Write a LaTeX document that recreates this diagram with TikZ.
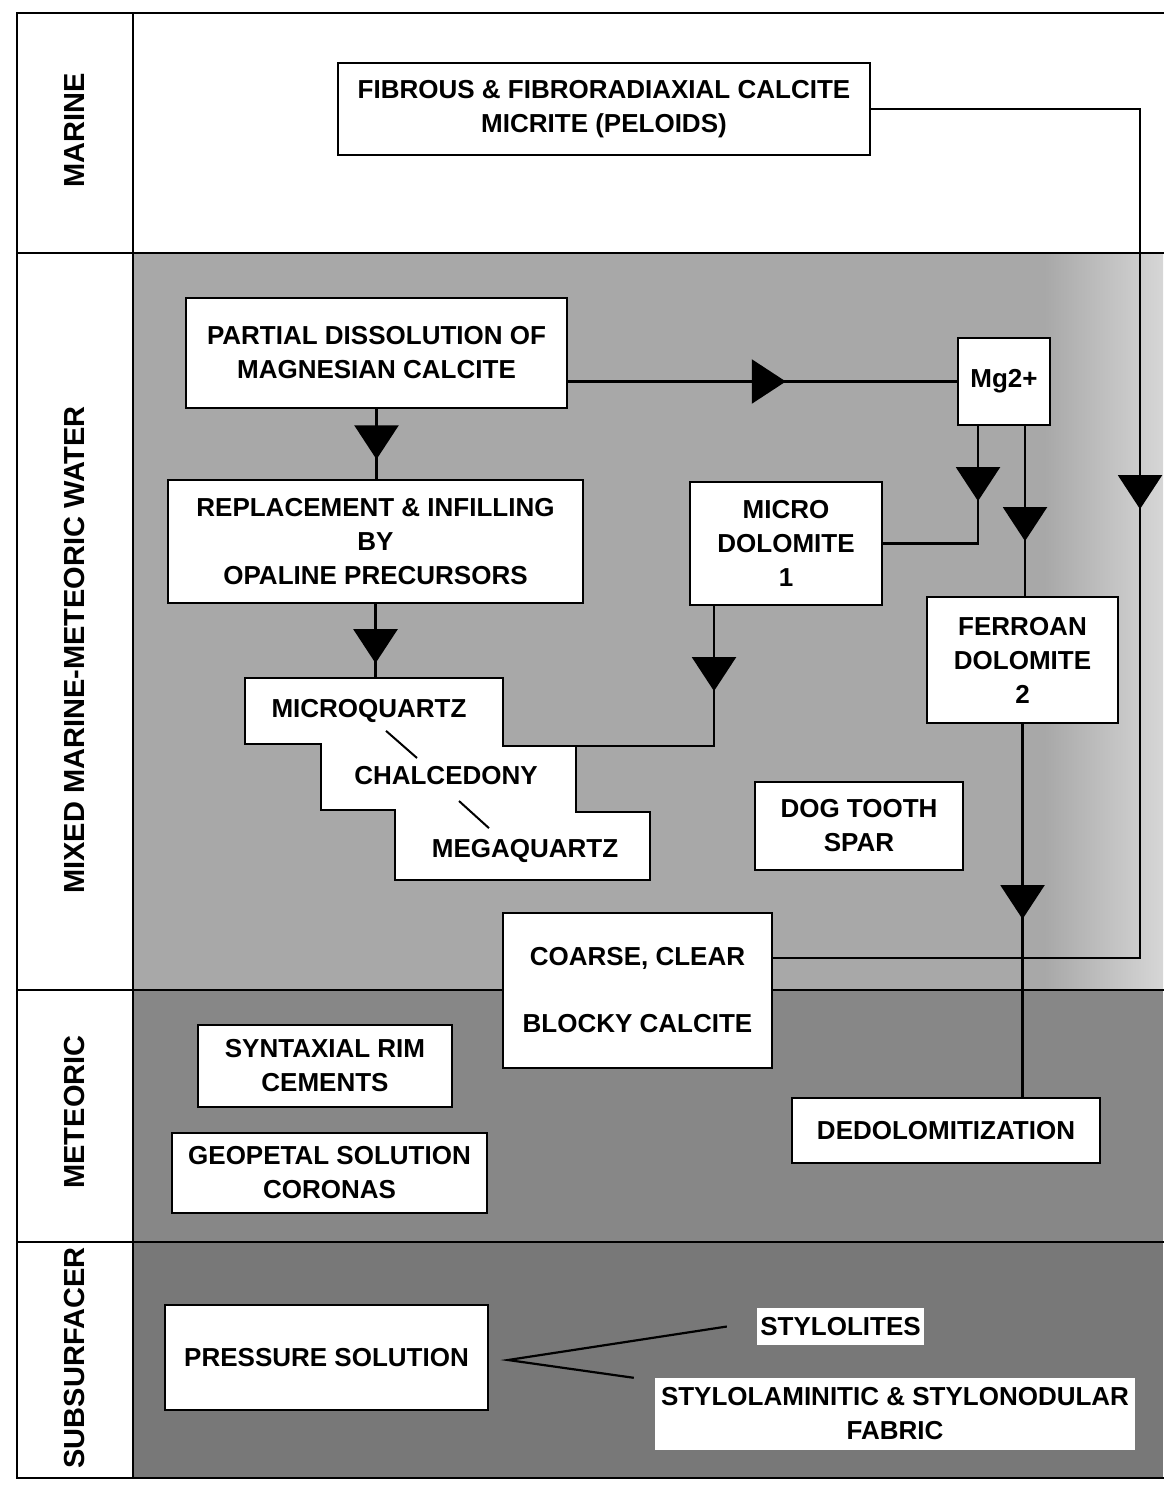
\documentclass[tikz,border=0pt]{standalone}
\usepackage{fontspec}
\setmainfont{Liberation Sans}
\usetikzlibrary{arrows.meta,decorations.markings,calc}
\definecolor{mixgray}{gray}{0.66}
\definecolor{mixlight}{gray}{0.84}
\definecolor{metgray}{gray}{0.53}
\definecolor{subgray}{gray}{0.47}
\begin{document}
\begin{tikzpicture}[x=1pt,y=-1pt,
  every node/.style={font=\bfseries\fontsize{26}{34}\selectfont},
  box/.style={draw, line width=2.2pt, fill=white, align=center, inner sep=0pt},
  plainlbl/.style={inner sep=0pt, align=center},
  whitelbl/.style={fill=white, inner sep=0pt, align=center},
  zonelabel/.style={rotate=90, inner sep=0pt, font=\bfseries\fontsize{29}{34}\selectfont},
  conn/.style={line width=2.2pt},
  tie/.style={line width=2pt},
  framel/.style={line width=2.8pt, line cap=rect},
  arrowat/.style={postaction={decorate}, decoration={markings, mark=at position #1 with {\arrow{Triangle[length=34pt,width=44pt]}}}}
]
\useasboundingbox (0,0) rectangle (1163,1494);
\fill[white] (0,0) rectangle (1163,1494);
% zone backgrounds
\fill[mixgray] (133,253) rectangle (1163,990);
\shade[left color=mixgray, right color=mixlight] (1045,253) rectangle (1163,990);
\fill[metgray] (133,990) rectangle (1163,1242);
\fill[subgray] (133,1242) rectangle (1163,1478);
% frame
\draw[framel] (17,13) -- (1163,13);
\draw[framel] (17,253) -- (1163,253);
\draw[framel] (17,990) -- (1163,990);
\draw[framel] (17,1242) -- (1163,1242);
\draw[framel] (17,1478) -- (1163,1478);
\draw[framel] (17,13) -- (17,1478);
\draw[framel] (133,13) -- (133,1478);
% zone labels
\node[zonelabel] (lmar) at (75,130) {MARINE};
\node[zonelabel] (lmix) at (75,650) {MIXED MARINE-METEORIC WATER};
\node[zonelabel] (lmet) at (75,1112) {METEORIC};
\node[zonelabel] (lsub) at (75,1358) {SUBSURFACER};
% stepped quartz box
\draw[line width=2.2pt, fill=white] (245,678) -- (503,678) -- (503,746) -- (576,746) -- (576,812) -- (650,812) -- (650,880) -- (395,880) -- (395,810) -- (321,810) -- (321,744) -- (245,744) -- cycle;
\coordinate (stepTop) at (375.5,678);
\coordinate (stepStep) at (576,746);
\node[plainlbl] (mq) at (369,711) {MICROQUARTZ};
\node[plainlbl] (ch) at (446,776) {CHALCEDONY};
\node[plainlbl] (meg) at (525,851) {MEGAQUARTZ};
\draw[tie] ([xshift=17pt,yshift=-8pt]mq.south) -- ([xshift=-29pt,yshift=8.6pt]ch.north);
\draw[tie] ([xshift=13pt,yshift=-15.6pt]ch.south) -- ([xshift=-36pt,yshift=11pt]meg.north);
% boxes
\node[box, minimum width=532pt, minimum height=92pt] (fib) at (604,109) {FIBROUS \& FIBRORADIAXIAL CALCITE\\MICRITE (PELOIDS)};
\node[box, minimum width=381pt, minimum height=110pt] (partial) at (376.5,353) {PARTIAL DISSOLUTION OF\\MAGNESIAN CALCITE};
\node[box, minimum width=92pt, minimum height=87pt] (mg) at (1004,381.5) {Mg2+};
\node[box, minimum width=415pt, minimum height=123pt] (repl) at (375.5,541.5) {REPLACEMENT \& INFILLING\\BY\\OPALINE PRECURSORS};
\node[box, minimum width=192pt, minimum height=123pt] (mdol) at (786,543.5) {MICRO\\DOLOMITE\\1};
\node[box, minimum width=191pt, minimum height=126pt] (ferro) at (1022.5,660) {FERROAN\\DOLOMITE\\2};
\node[box, minimum width=208pt, minimum height=88pt] (dog) at (859,826) {DOG TOOTH\\SPAR};
\node[box, minimum width=269pt, minimum height=155pt] (coarse) at (637.5,990.5) {COARSE, CLEAR\\[33pt]BLOCKY CALCITE};
\node[box, minimum width=254pt, minimum height=82pt] (synt) at (325,1066) {SYNTAXIAL RIM\\CEMENTS};
\node[box, minimum width=315pt, minimum height=80pt] (geo) at (329.5,1173) {GEOPETAL SOLUTION\\CORONAS};
\node[box, minimum width=308pt, minimum height=65pt] (dedol) at (946,1130.5) {DEDOLOMITIZATION};
\node[box, minimum width=323pt, minimum height=105pt] (press) at (326.5,1357.5) {PRESSURE SOLUTION};
\node[whitelbl, minimum width=167pt, minimum height=37pt] (styl) at (840.5,1326.5) {STYLOLITES};
\node[whitelbl, minimum width=480pt, minimum height=72pt] (stylam) at (895,1414) {STYLOLAMINITIC \& STYLONODULAR\\FABRIC};
% connectors
\coordinate (fibturn) at (1140,958);
\coordinate (apex) at (508,1360);
\draw[conn, arrowat=669pt] (fib.east) -| (fibturn) -- ([yshift=32.5pt]coarse.east);
\draw[conn, arrowat=0.72] (partial.south) -- (partial.south |- repl.north);
\draw[conn, arrowat=0.56] ([yshift=-28.5pt]partial.east) -- (mg.west);
\draw[conn, arrowat=0.8] (repl.south) -- (stepTop);
\draw[conn, arrowat=75pt] ([xshift=-26pt]mg.south) |- (mdol.east);
\draw[conn, arrowat=115pt] ([xshift=21pt]mg.south) -- ([xshift=21pt]mg.south |- ferro.north);
\draw[conn, arrowat=85pt] ([xshift=-72pt]mdol.south) |- (stepStep);
\draw[conn, arrowat=195pt] (ferro.south) -- (ferro.south |- dedol.north);
\draw[conn] ([xshift=-30pt]styl.west) -- (apex) -- ([xshift=-21pt]stylam.north west);
\end{tikzpicture}
\end{document}
